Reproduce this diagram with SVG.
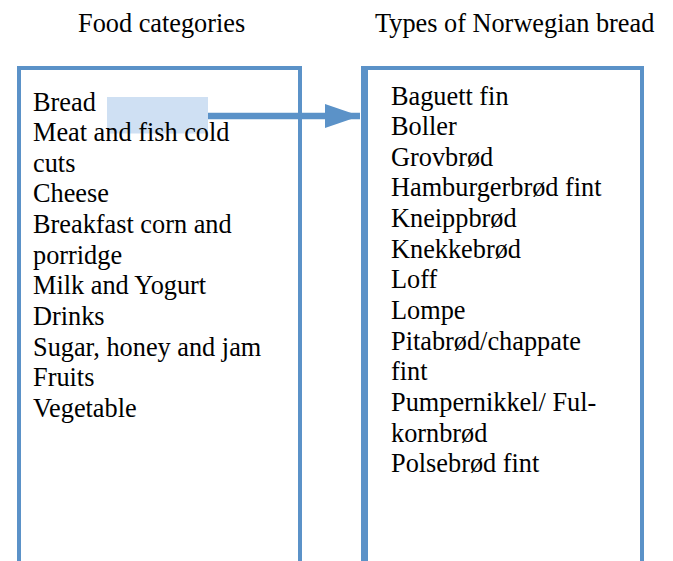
<svg xmlns="http://www.w3.org/2000/svg" width="673" height="561" viewBox="0 0 673 561">
<style>
.t{font-family:"Liberation Serif","Times New Roman",serif;fill:#000}
.title{font-size:26.3px}
.body{font-size:26.3px}
.edge{fill:none;stroke:#5b92c8}
</style>
<defs>
<marker id="ah" markerUnits="userSpaceOnUse" markerWidth="36" markerHeight="26" refX="35" refY="12" orient="auto">
<path d="M0,0 L35,12 L0,24 Z" fill="#5b92c8"/>
</marker>
</defs>
<rect width="673" height="561" fill="#fff"/>
<g id="titles">
<text class="t title" x="78" y="31.5">Food categories</text>
<text class="t title" x="375" y="31.5">Types of Norwegian bread</text>
</g>
<g id="node-food-categories">
<path class="edge" stroke-width="4" d="M19,561 V68 H300 V561"/>
<rect x="107" y="97" width="101" height="36.5" fill="#cfe0f3"/>
<g>
<text class="t body" x="33" y="110.5">Bread</text>
<text class="t body" x="33" y="141.15">Meat and fish cold</text>
<text class="t body" x="33" y="171.8">cuts</text>
<text class="t body" x="33" y="202.45">Cheese</text>
<text class="t body" x="33" y="233.1">Breakfast corn and</text>
<text class="t body" x="33" y="263.75">porridge</text>
<text class="t body" x="33" y="294.4">Milk and Yogurt</text>
<text class="t body" x="33" y="325.05">Drinks</text>
<text class="t body" x="33" y="355.7">Sugar, honey and jam</text>
<text class="t body" x="33" y="386.35">Fruits</text>
<text class="t body" x="33" y="417">Vegetable</text>
</g>
</g>
<g id="node-bread-types">
<path class="edge" stroke-width="4" d="M361,68 H642 V561"/>
<line class="edge" stroke-width="7" x1="364.5" y1="66" x2="364.5" y2="561"/>
<g>
<text class="t body" x="391" y="104.5">Baguett fin</text>
<text class="t body" x="391" y="135.15">Boller</text>
<text class="t body" x="391" y="165.8">Grovbrød</text>
<text class="t body" x="391" y="196.45">Hamburgerbrød fint</text>
<text class="t body" x="391" y="227.1">Kneippbrød</text>
<text class="t body" x="391" y="257.75">Knekkebrød</text>
<text class="t body" x="391" y="288.4">Loff</text>
<text class="t body" x="391" y="319.05">Lompe</text>
<text class="t body" x="391" y="349.7">Pitabrød/chappate</text>
<text class="t body" x="391" y="380.35">fint</text>
<text class="t body" x="391" y="411">Pumpernikkel/ Ful-</text>
<text class="t body" x="391" y="441.65">kornbrød</text>
<text class="t body" x="391" y="472.3">Polsebrød fint</text>
</g>
</g>
<g id="connectors">
<line class="edge" stroke-width="6.5" x1="208" y1="116" x2="360" y2="116" marker-end="url(#ah)"/>
</g>
</svg>
